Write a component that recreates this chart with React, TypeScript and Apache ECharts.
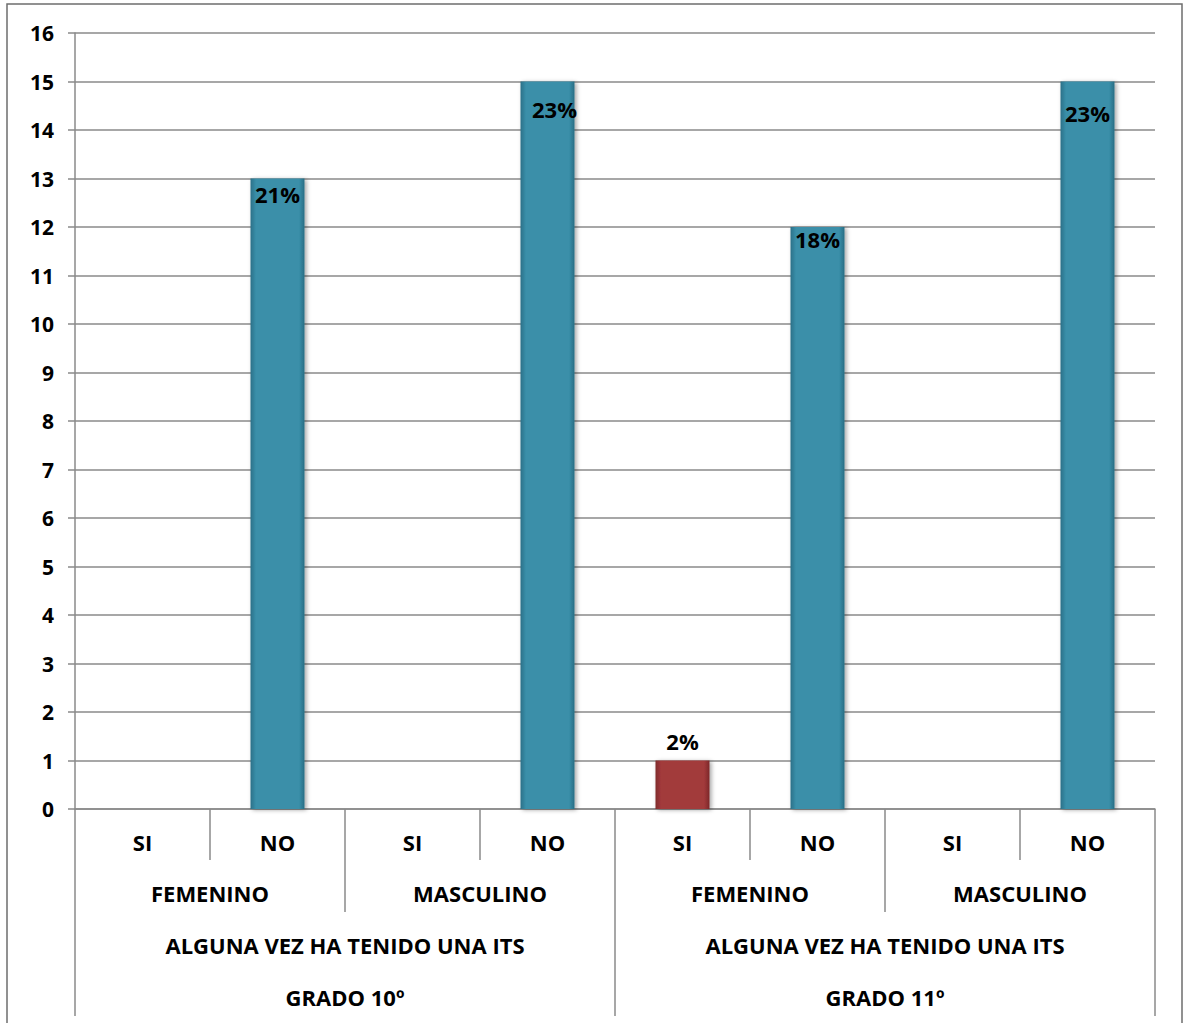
import React, { useEffect, useRef } from "react";
import * as echarts from "echarts";

const answers = ["SI", "NO", "SI", "NO", "SI", "NO", "SI", "NO"];
const sexes = ["FEMENINO", "MASCULINO", "FEMENINO", "MASCULINO"];
const questions = ["ALGUNA VEZ HA TENIDO UNA ITS", "ALGUNA VEZ HA TENIDO UNA ITS"];
const grades = ["GRADO 10º", "GRADO 11º"];
const counts = [0, 13, 0, 15, 1, 12, 0, 15];
const percentLabels = ["", "21%", "", "23%", "2%", "18%", "", "23%"];
const yTicks = { min: 0, max: 16, interval: 1 };

const FONT = "'Open Sans', Lato, sans-serif";
const GRID_COLOR = "#8a8a8a";

// label placement per bar (style only)
const labelPlacement: Record<number, { position: string; dy: number; dx: number }> = {
  1: { position: "insideTop", dy: -1, dx: 0 },
  3: { position: "insideTop", dy: 11, dx: 7 },
  4: { position: "top", dy: -4, dx: 0 },
  5: { position: "insideTop", dy: -4, dx: 0 },
  7: { position: "insideTop", dy: 15, dx: 0 },
};

const tealGrad = () =>
  new echarts.graphic.LinearGradient(0, 0, 1, 0, [
    { offset: 0, color: "#2a7088" },
    { offset: 0.1, color: "#3a8fa9" },
    { offset: 0.9, color: "#3a8fa9" },
    { offset: 1, color: "#296d84" },
  ]);
const redGrad = () =>
  new echarts.graphic.LinearGradient(0, 0, 1, 0, [
    { offset: 0, color: "#7f2a2c" },
    { offset: 0.1, color: "#a23a3b" },
    { offset: 0.9, color: "#a23a3b" },
    { offset: 1, color: "#7c2829" },
  ]);

export default function App() {
  const ref = useRef<HTMLDivElement>(null);
  useEffect(() => {
    document.body.style.margin = "0";
    const chart = echarts.init(ref.current!, null, { renderer: "svg" });
    const labelBase = {
      fontFamily: FONT,
      fontWeight: "bold" as const,
      fontSize: 22,
      color: "#000",
    };
    const xAxisCommon = (data: string[], offset: number, tickLen: number, showLine: boolean) => ({
      type: "category" as const,
      data,
      position: "bottom" as const,
      offset,
      axisLine: { show: showLine, lineStyle: { color: GRID_COLOR, width: 1.5 } },
      axisTick: { show: true, interval: 0, length: tickLen, lineStyle: { color: GRID_COLOR, width: 1.5 } },
      axisLabel: { ...labelBase, interval: 0, margin: 22 },
      splitLine: { show: false },
    });
    const seriesData = counts.map((v, i) => {
      const isSi = answers[i] === "SI";
      const lp = labelPlacement[i];
      return {
        value: v,
        itemStyle: {
          color: isSi ? redGrad() : tealGrad(),
          shadowColor: "rgba(0,0,0,0.35)",
          shadowBlur: 4,
          shadowOffsetX: 2,
          shadowOffsetY: 1,
        },
        label: {
          show: percentLabels[i] !== "",
          position: lp ? lp.position : "insideTop",
          offset: lp ? [lp.dx, lp.dy] : [0, 0],
          formatter: () => percentLabels[i],
          ...labelBase,
        },
      };
    });
    chart.setOption({
      animation: false,
      backgroundColor: "#fff",
      grid: { left: 75, right: 31, top: 33, bottom: 214, containLabel: false },
      xAxis: [
        xAxisCommon(answers, 0, 51, true),
        xAxisCommon(sexes, 51, 52, false),
        xAxisCommon(questions, 103, 52, false),
        xAxisCommon(grades, 155, 52, false),
      ],
      yAxis: {
        type: "value",
        min: yTicks.min,
        max: yTicks.max,
        interval: yTicks.interval,
        axisLine: { show: true, lineStyle: { color: GRID_COLOR, width: 1.5 } },
        axisTick: { show: true, length: 7, lineStyle: { color: GRID_COLOR, width: 1.5 } },
        splitLine: { show: true, lineStyle: { color: GRID_COLOR, width: 1.5 } },
        axisLabel: { ...labelBase, fontSize: 21, margin: 21 },
      },
      series: [
        {
          type: "bar",
          xAxisIndex: 0,
          barWidth: 54,
          data: seriesData,
          z: 3,
        },
      ],
      graphic: [
        {
          type: "rect",
          z: -10,
          silent: true,
          shape: { x: 7, y: 4, width: 1175, height: 1040 },
          style: { fill: "none", stroke: "#6e6e6e", lineWidth: 1.5 },
        },
      ],
    });
    return () => chart.dispose();
  }, []);
  return <div ref={ref} style={{ width: 1186, height: 1023 }} />;
}
